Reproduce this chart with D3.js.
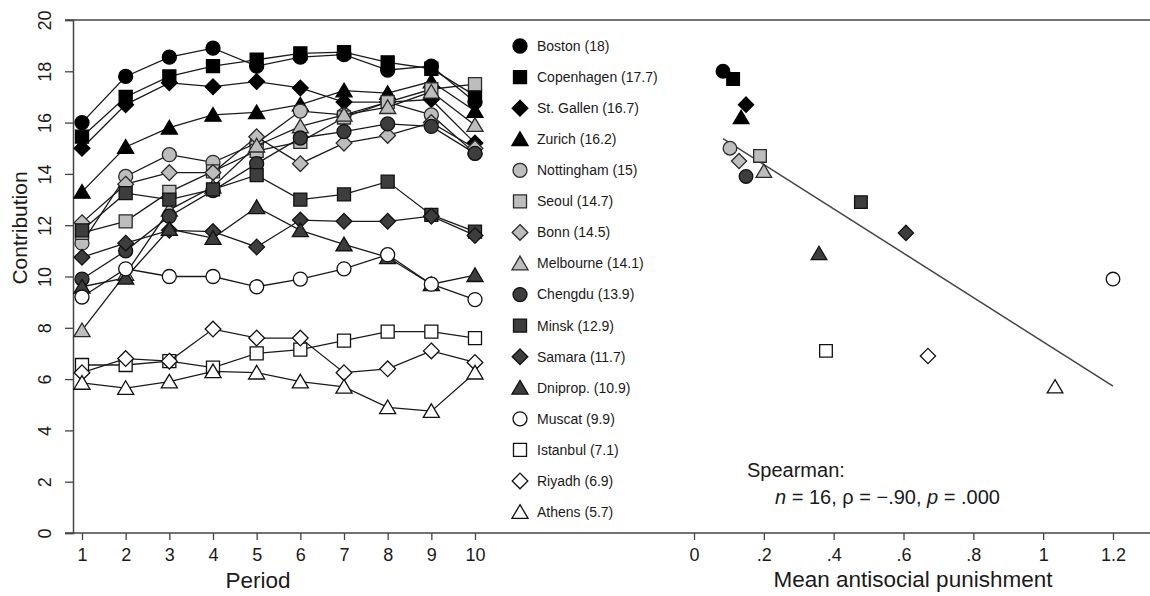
<!DOCTYPE html>
<html lang="en">
<head>
  <meta charset="UTF-8" />
  <title>Contribution and antisocial punishment</title>
  <script src="https://cdn.jsdelivr.net/npm/d3@7/dist/d3.min.js"></script>
  <style>
    body { margin: 0; background: #fff; }
    text { font-family: "Liberation Sans", Arial, sans-serif; fill: #1a1a1a; }
  </style>
</head>
<body>
  <svg width="1150" height="596"></svg>

  <script>
    // cities, in legend order
    const cities = ['Boston', 'Copenhagen', 'St. Gallen', 'Zurich', 'Nottingham', 'Seoul', 'Bonn', 'Melbourne',
      'Chengdu', 'Minsk', 'Samara', 'Dniprop.', 'Muscat', 'Istanbul', 'Riyadh', 'Athens'];
    const meanContribution = [18, 17.7, 16.7, 16.2, 15, 14.7, 14.5, 14.1, 13.9, 12.9, 11.7, 10.9, 9.9, 7.1, 6.9, 5.7];
    const meanAntisocial = [0.083, 0.112, 0.149, 0.135, 0.103, 0.189, 0.129, 0.2, 0.149, 0.478, 0.607, 0.358, 1.2, 0.378, 0.67, 1.034];
    const shapes = ['circle', 'square', 'diamond', 'triangle', 'circle', 'square', 'diamond', 'triangle',
      'circle', 'square', 'diamond', 'triangle', 'circle', 'square', 'diamond', 'triangle'];
    const shades = ['black', 'black', 'black', 'black', 'light', 'light', 'light', 'light',
      'dark', 'dark', 'dark', 'dark', 'white', 'white', 'white', 'white'];

    const periods = [1, 2, 3, 4, 5, 6, 7, 8, 9, 10];

    // contribution per period, one row per city
    const byPeriod = [
      [16.0, 17.8, 18.55, 18.9, 18.2, 18.55, 18.65, 18.05, 18.2, 16.8],
      [15.45, 17.0, 17.8, 18.2, 18.45, 18.7, 18.75, 18.35, 18.1, 17.05],
      [15.0, 16.7, 17.55, 17.4, 17.6, 17.35, 16.8, 16.8, 16.9, 15.2],
      [13.3, 15.05, 15.8, 16.3, 16.4, 16.7, 17.25, 17.15, 17.6, 16.45],
      [11.3, 13.9, 14.75, 14.45, 15.2, 16.45, 16.3, 16.8, 16.3, 14.8],
      [11.7, 12.15, 13.3, 14.1, 14.9, 15.25, 16.2, 16.8, 17.3, 17.5],
      [12.1, 13.6, 14.05, 14.05, 15.45, 14.4, 15.2, 15.5, 16.0, 15.0],
      [7.9, 10.1, 12.6, 13.5, 15.1, 15.85, 16.3, 16.6, 17.2, 15.9],
      [9.9, 11.0, 12.35, 13.35, 14.4, 15.4, 15.65, 15.95, 15.85, 14.8],
      [11.8, 13.25, 13.0, 13.4, 13.95, 13.0, 13.2, 13.7, 12.4, 11.75],
      [10.75, 11.3, 11.8, 11.75, 11.15, 12.2, 12.15, 12.15, 12.35, 11.6],
      [9.6, 9.95, 11.85, 11.5, 12.7, 11.8, 11.25, 10.75, 9.7, 10.05],
      [9.2, 10.3, 10.0, 10.0, 9.6, 9.9, 10.3, 10.85, 9.7, 9.1],
      [6.55, 6.55, 6.7, 6.45, 7.0, 7.15, 7.5, 7.85, 7.85, 7.6],
      [6.25, 6.8, 6.7, 7.95, 7.6, 7.6, 6.25, 6.4, 7.1, 6.65],
      [5.85, 5.65, 5.9, 6.3, 6.25, 5.9, 5.7, 4.9, 4.75, 6.25]
    ];

    const yTicks = [0, 2, 4, 6, 8, 10, 12, 14, 16, 18, 20];
    const punishTicks = [0, 0.2, 0.4, 0.6, 0.8, 1, 1.2];

    const fills = { black: '#000', light: '#bdbdbd', dark: '#3d3d3d', white: '#fff' };
    const strokes = { black: '#000', light: '#2a2a2a', dark: '#111', white: '#111' };

    const svg = d3.select('svg');
    const width = +svg.attr('width');

    const y = d3.scaleLinear().domain([0, 20]).range([533, 20]);
    const xPeriod = d3.scaleLinear().domain([1, 10]).range([82, 475]);
    const xPunish = d3.scaleLinear().domain([0, 1.2]).range([694, 1113]);

    function shapePath(shape, s) {
      if (shape === 'circle') {
        return `M${s},0A${s},${s} 0 1,1 ${-s},0A${s},${s} 0 1,1 ${s},0Z`;
      }
      if (shape === 'square') {
        const h = s * 0.93;
        return `M${-h},${-h}H${h}V${h}H${-h}Z`;
      }
      if (shape === 'diamond') {
        const h = s * 1.12;
        return `M0,${-h}L${h},0L0,${h}L${-h},0Z`;
      }
      const w = s * 1.15;
      return `M0,${-s * 1.05}L${w},${s * 0.9}L${-w},${s * 0.9}Z`;
    }

    function marker(g, i, cx, cy, s) {
      g.append('path')
        .attr('d', shapePath(shapes[i], s))
        .attr('transform', `translate(${cx},${cy})`)
        .attr('fill', fills[shades[i]])
        .attr('stroke', strokes[shades[i]])
        .attr('stroke-width', 1.3);
    }

    // frame line on top
    svg.append('line')
      .attr('x1', 65).attr('x2', width).attr('y1', y(20)).attr('y2', y(20))
      .attr('stroke', '#444').attr('stroke-width', 1.5);

    // left y axis, labels turned on their side
    const yAxis = svg.append('g')
      .attr('transform', 'translate(73,0)')
      .call(d3.axisLeft(y).tickValues(yTicks).tickSize(8).tickPadding(6));
    yAxis.select('.domain').attr('stroke', '#444').attr('stroke-width', 1.5);
    yAxis.selectAll('.tick line').attr('stroke', '#444').attr('stroke-width', 1.3);
    yAxis.selectAll('.tick text')
      .attr('font-size', 18)
      .attr('text-anchor', 'middle')
      .attr('x', 0)
      .attr('dy', '0.35em')
      .attr('transform', 'translate(-28,0) rotate(-90)');

    // bottom axis line across both panels
    svg.append('line')
      .attr('x1', 65).attr('x2', width).attr('y1', y(0)).attr('y2', y(0))
      .attr('stroke', '#444').attr('stroke-width', 1.5);

    const xAxisL = svg.append('g')
      .attr('transform', `translate(0,${y(0)})`)
      .call(d3.axisBottom(xPeriod).tickValues(periods).tickFormat(d3.format('d')).tickSize(7).tickPadding(8));
    xAxisL.select('.domain').remove();
    xAxisL.selectAll('.tick line').attr('stroke', '#444').attr('stroke-width', 1.3);
    xAxisL.selectAll('.tick text').attr('font-size', 18);

    const xAxisR = svg.append('g')
      .attr('transform', `translate(0,${y(0)})`)
      .call(d3.axisBottom(xPunish).tickValues(punishTicks)
        .tickFormat((d) => (d === 0 ? '0' : d === 1 ? '1' : d3.format('.1f')(d).replace(/^0/, '')))
        .tickSize(7).tickPadding(8));
    xAxisR.select('.domain').remove();
    xAxisR.selectAll('.tick line').attr('stroke', '#444').attr('stroke-width', 1.3);
    xAxisR.selectAll('.tick text').attr('font-size', 18);

    // axis titles
    svg.append('text')
      .attr('transform', 'translate(20,228) rotate(-90)')
      .attr('text-anchor', 'middle')
      .attr('dy', '0.35em')
      .attr('font-size', 21)
      .text('Contribution');
    svg.append('text')
      .attr('x', 258).attr('y', 588)
      .attr('text-anchor', 'middle')
      .attr('font-size', 22.5)
      .text('Period');
    svg.append('text')
      .attr('x', 913).attr('y', 587)
      .attr('text-anchor', 'middle')
      .attr('font-size', 22.5)
      .text('Mean antisocial punishment');

    // left panel: lines with markers
    const line = d3.line().x((d, j) => xPeriod(periods[j])).y((d) => y(d));
    const series = svg.append('g');
    byPeriod.forEach((vals, i) => {
      const g = series.append('g');
      g.append('path')
        .attr('d', line(vals))
        .attr('fill', 'none')
        .attr('stroke', '#1a1a1a')
        .attr('stroke-width', 1.3);
      vals.forEach((v, j) => marker(g, i, xPeriod(periods[j]), y(v), 7));
    });

    // legend
    const legend = svg.append('g');
    cities.forEach((c, i) => {
      const ly = 46 + i * 31.07;
      marker(legend, i, 520, ly, 7);
      legend.append('text')
        .attr('x', 537).attr('y', ly)
        .attr('dy', '0.35em')
        .attr('font-size', 14)
        .text(`${c} (${meanContribution[i]})`);
    });

    // right panel: least-squares line
    const mx = d3.mean(meanAntisocial);
    const my = d3.mean(meanContribution);
    const slope = d3.sum(meanAntisocial, (d, i) => (d - mx) * (meanContribution[i] - my)) /
      d3.sum(meanAntisocial, (d) => (d - mx) * (d - mx));
    const [x0, x1] = d3.extent(meanAntisocial);
    svg.append('line')
      .attr('x1', xPunish(x0)).attr('y1', y(my + slope * (x0 - mx)))
      .attr('x2', xPunish(x1)).attr('y2', y(my + slope * (x1 - mx)))
      .attr('stroke', '#444').attr('stroke-width', 1.5);

    const scatter = svg.append('g');
    cities.forEach((c, i) => marker(scatter, i, xPunish(meanAntisocial[i]), y(meanContribution[i]), 6.8));

    // Spearman note
    svg.append('text')
      .attr('x', 747).attr('y', 477)
      .attr('font-size', 20)
      .text('Spearman:');
    const note = svg.append('text')
      .attr('x', 775).attr('y', 504)
      .attr('font-size', 20);
    note.append('tspan').attr('font-style', 'italic').text('n');
    note.append('tspan').text(' = 16, ρ = −.90, ');
    note.append('tspan').attr('font-style', 'italic').text('p');
    note.append('tspan').text(' = .000');
  </script>
</body>
</html>
